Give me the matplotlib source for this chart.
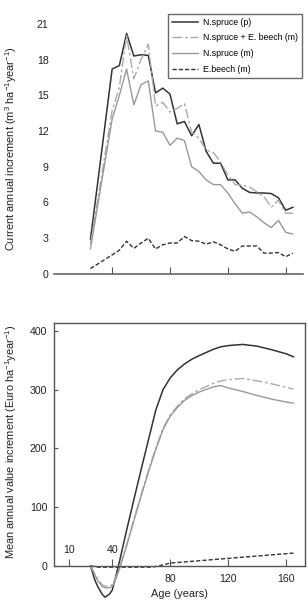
import numpy as np
import matplotlib
matplotlib.use('Agg')
import matplotlib.pyplot as plt

plt.rcParams['font.family'] = ['Liberation Sans', 'DejaVu Sans']
plt.rcParams['font.size'] = 7.6
plt.rcParams['mathtext.fontset'] = 'custom'
plt.rcParams['mathtext.rm'] = 'Liberation Sans'
plt.rcParams['mathtext.it'] = 'Liberation Sans:italic'
plt.rcParams['mathtext.bf'] = 'Liberation Sans:bold'

# current annual increment (m3/ha/yr)
ages_top = [25, 40, 45, 50, 55, 60, 65, 70, 75, 80, 85, 90, 95, 100, 105,
            110, 115, 120, 125, 130, 135, 140, 145, 150, 155, 160, 165]
spruce_p = [2.9, 17.2, 17.5, 20.2, 18.3, 18.4, 18.35, 15.2, 15.6, 15.1, 12.6,
            12.8, 11.6, 12.55, 10.3, 9.3, 9.3, 7.9, 7.9, 7.2, 6.85, 6.8, 6.8,
            6.75, 6.4, 5.35, 5.6]
mixed_m = [2.5, 13.7, 15.7, 20.0, 16.4, 18.0, 19.3, 14.1, 14.4, 13.6, 13.9,
           14.3, 11.9, 11.4, 10.4, 10.2, 9.4, 8.3, 7.5, 7.45, 7.3, 6.9, 6.5,
           5.6, 6.2, 5.1, 5.1]
spruce_m = [2.1, 13.0, 15.0, 17.2, 14.2, 15.9, 16.2, 12.0, 11.9, 10.8, 11.4,
            11.2, 9.0, 8.6, 7.9, 7.5, 7.5, 6.8, 5.9, 5.1, 5.2, 4.8, 4.3, 3.9,
            4.5, 3.5, 3.35]
beech_m = [0.45, 1.6, 2.0, 2.75, 2.15, 2.6, 3.0, 2.1, 2.45, 2.6, 2.6, 3.15,
           2.8, 2.75, 2.5, 2.7, 2.45, 2.1, 1.9, 2.35, 2.35, 2.35, 1.75, 1.75,
           1.8, 1.45, 1.75]

# mean annual value increment (Euro/ha/yr)
ages_bot = [25, 28, 30, 33, 35, 38, 40, 42, 45, 50, 55, 60, 65, 70, 75, 80,
            85, 90, 95, 100, 110, 115, 120, 130, 140, 150, 160, 165]
val_spruce_p = [0, -24, -35, -48, -53, -48, -41, -22, 8, 62, 114, 165, 215,
                265, 300, 320, 334, 344, 352, 358, 369, 373, 375, 377, 374,
                368, 361, 356]
val_mixed_m = [0, -14, -22, -32, -34, -34, -32, -22, -3, 37, 80, 122, 163,
               200, 234, 257, 272, 285, 293, 300, 311, 315, 317, 319, 315,
               310, 304, 301]
val_spruce_m = [0, -15, -25, -35, -37, -37, -35, -25, -5, 35, 78, 120, 160,
                198, 232, 255, 270, 282, 290, 296, 305, 307, 303, 297, 290,
                284, 279, 277]
val_beech_m = [0, -1, -2, -2, -2, -2, -2, -2, -2, -2, -2, -2, -2, -1, 2, 5,
               6, 7, 8, 9, 11, 12, 13, 15, 17, 19, 21, 22]

labels = ['N.spruce (p)', 'N.spruce + E. beech (m)', 'N.spruce (m)', 'E.beech (m)']
c_dark = '#333333'
c_mix = '#aaaaaa'
c_gray = '#999999'
c_text = '#222222'
ls_mix = (0, (7, 2, 2, 2))
ls_dash = (0, (3, 1.5))

fig = plt.figure(figsize=(3.08, 6.02), dpi=100)

# top panel
ax0 = fig.add_axes([0.1763, 0.5449, 0.8075, 0.4551])
ax0.plot(ages_top, spruce_p, c=c_dark, lw=1.1, label=labels[0])
ax0.plot(ages_top, mixed_m, c=c_mix, lw=1.0, ls=ls_mix, label=labels[1])
ax0.plot(ages_top, spruce_m, c=c_gray, lw=1.0, label=labels[2])
ax0.plot(ages_top, beech_m, c=c_dark, lw=1.0, ls=ls_dash, label=labels[3])
ax0.set_xlim(0, 172)
ax0.set_ylim(0, 23)
ax0.set_yticks(np.arange(0, 22, 3))
ax0.set_xticks([40, 80, 120, 160])
ax0.set_xticklabels([])
ax0.tick_params(axis='x', direction='in', length=5, color='#555555')
ax0.tick_params(axis='y', length=0, pad=4, labelcolor=c_text)
for s in ['top', 'right', 'left']:
    ax0.spines[s].set_visible(False)
ax0.spines['bottom'].set_color('#666666')
ax0.spines['bottom'].set_linewidth(1.2)
ax0.set_ylabel('Current annual increment (m$^3$ ha$^{-1}$year$^{-1}$)',
               fontsize=7.9, color=c_text)
ax0.yaxis.set_label_coords(-0.14, 0.458)
leg = ax0.legend(loc='upper right', bbox_to_anchor=(0.997, 0.949), fontsize=6.3,
                 frameon=True, fancybox=False, handlelength=3.0,
                 borderpad=0.45, labelspacing=0.75, handletextpad=0.6,
                 borderaxespad=0.0)
leg.get_frame().set_edgecolor('#444444')
leg.get_frame().set_linewidth(1.0)

# bottom panel
ax1 = fig.add_axes([0.1763, 0.0012, 0.814, 0.4628])
ax1.plot(ages_bot, val_spruce_p, c=c_dark, lw=1.1)
ax1.plot(ages_bot, val_mixed_m, c=c_mix, lw=1.0, ls=ls_mix)
ax1.plot(ages_bot, val_spruce_m, c=c_gray, lw=1.0)
ax1.plot(ages_bot, val_beech_m, c=c_dark, lw=1.0, ls=ls_dash)
ax1.set_xlim(0, 173)
ax1.set_ylim(-60, 414)
ax1.set_yticks([0, 100, 200, 300, 400])
ax1.set_xticks([10, 40, 80, 120, 160])
ax1.set_xticklabels(['', '', '80', '120', '160'])
ax1.tick_params(axis='x', direction='in', length=5, color='#555555',
                labelcolor=c_text, pad=6)
ax1.tick_params(axis='y', direction='in', length=3, color='#555555',
                labelcolor=c_text, pad=5)
for v in [10, 40]:
    ax1.text(v, 27, str(v), ha='center', va='center', color=c_text)
ax1.spines['bottom'].set_position(('data', 0))
ax1.spines['left'].set_bounds(0, 414)
ax1.spines['right'].set_bounds(0, 414)
for s in ax1.spines.values():
    s.set_color('#555555')
    s.set_linewidth(1.0)
ax1.set_xlabel('Age (years)', fontsize=7.9, color=c_text)
ax1.xaxis.set_label_coords(0.5, 0.045)
ax1.set_ylabel('Mean annual value increment (Euro ha$^{-1}$year$^{-1}$)',
               fontsize=7.9, color=c_text)
ax1.yaxis.set_label_coords(-0.14, 0.572)

fig.savefig('out.png', dpi=100)
